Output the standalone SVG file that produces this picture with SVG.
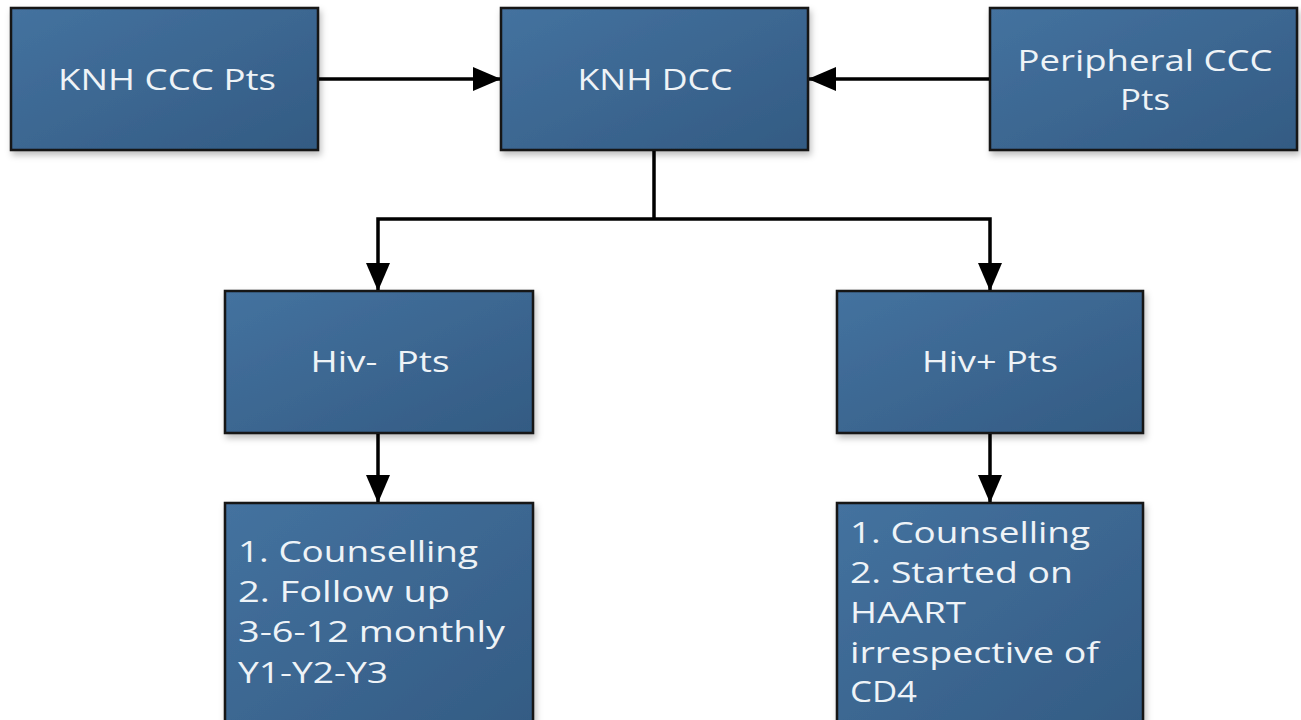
<svg xmlns="http://www.w3.org/2000/svg" width="1301" height="720" viewBox="0 0 1301 720">
<defs>
<linearGradient id="boxfill" x1="0" y1="0" x2="1" y2="1">
<stop offset="0" stop-color="#44729f"/>
<stop offset="1" stop-color="#335b83"/>
</linearGradient>
<filter id="shadow" x="-10%" y="-10%" width="125%" height="130%">
<feDropShadow dx="2" dy="4" stdDeviation="3" flood-color="#000" flood-opacity="0.25"/>
</filter>
<marker id="arrow" viewBox="0 0 28 24" refX="28" refY="12" markerWidth="28" markerHeight="24" markerUnits="userSpaceOnUse" orient="auto">
<path d="M0,0 L28,12 L0,24 Z" fill="#000"/>
</marker>
<style>
.box{fill:url(#boxfill);stroke:#121212;stroke-width:2.5;filter:url(#shadow);}
.lbl{font-family:"Open Sans","Liberation Sans",sans-serif;font-size:29px;fill:#eef3f7;}
.c{text-anchor:middle;}
.conn{fill:none;stroke:#000;stroke-width:3.5;}
</style>
</defs>
<rect width="1301" height="720" fill="#fff"/>
<g id="connectors">
<line class="conn" x1="318" y1="79" x2="501" y2="79" marker-end="url(#arrow)"/>
<line class="conn" x1="989" y1="79" x2="808" y2="79" marker-end="url(#arrow)"/>
<polyline class="conn" points="654,150 654,219"/>
<polyline class="conn" points="654,219 378,219 378,291" marker-end="url(#arrow)"/>
<polyline class="conn" points="654,219 990,219 990,291" marker-end="url(#arrow)"/>
<line class="conn" x1="378" y1="433" x2="378" y2="503" marker-end="url(#arrow)"/>
<line class="conn" x1="990" y1="433" x2="990" y2="503" marker-end="url(#arrow)"/>
</g>
<g id="knh-ccc">
<rect class="box" x="11" y="8" width="307" height="142"/>
<text class="lbl c" x="167" y="90" textLength="218" lengthAdjust="spacingAndGlyphs">KNH CCC Pts</text>
</g>
<g id="knh-dcc">
<rect class="box" x="501" y="8" width="307" height="142"/>
<text class="lbl c" x="655" y="90" textLength="155" lengthAdjust="spacingAndGlyphs">KNH DCC</text>
</g>
<g id="peripheral">
<rect class="box" x="990" y="8" width="307" height="142"/>
<text class="lbl c" x="1145" y="71" textLength="255" lengthAdjust="spacingAndGlyphs">Peripheral CCC</text>
<text class="lbl c" x="1145" y="110" textLength="50" lengthAdjust="spacingAndGlyphs">Pts</text>
</g>
<g id="hiv-neg">
<rect class="box" x="225" y="291" width="308" height="142"/>
<text class="lbl c" x="380" y="372" textLength="139" lengthAdjust="spacingAndGlyphs" xml:space="preserve">Hiv-  Pts</text>
</g>
<g id="hiv-pos">
<rect class="box" x="837" y="291" width="306" height="142"/>
<text class="lbl c" x="990" y="372" textLength="136" lengthAdjust="spacingAndGlyphs">Hiv+ Pts</text>
</g>
<g id="hiv-neg-care">
<rect class="box" x="225" y="503" width="308" height="230"/>
<text class="lbl" x="238" y="562" textLength="240" lengthAdjust="spacingAndGlyphs">1. Counselling</text>
<text class="lbl" x="238" y="602" textLength="212" lengthAdjust="spacingAndGlyphs">2. Follow up</text>
<text class="lbl" x="238" y="642" textLength="267" lengthAdjust="spacingAndGlyphs">3-6-12 monthly</text>
<text class="lbl" x="238" y="683" textLength="150" lengthAdjust="spacingAndGlyphs">Y1-Y2-Y3</text>
</g>
<g id="hiv-pos-care">
<rect class="box" x="837" y="503" width="306" height="230"/>
<text class="lbl" x="850" y="543" textLength="240" lengthAdjust="spacingAndGlyphs">1. Counselling</text>
<text class="lbl" x="850" y="583" textLength="223" lengthAdjust="spacingAndGlyphs">2. Started on</text>
<text class="lbl" x="850" y="623" textLength="116" lengthAdjust="spacingAndGlyphs">HAART</text>
<text class="lbl" x="850" y="663" textLength="249" lengthAdjust="spacingAndGlyphs">irrespective of</text>
<text class="lbl" x="850" y="702" textLength="67" lengthAdjust="spacingAndGlyphs">CD4</text>
</g>
</svg>
